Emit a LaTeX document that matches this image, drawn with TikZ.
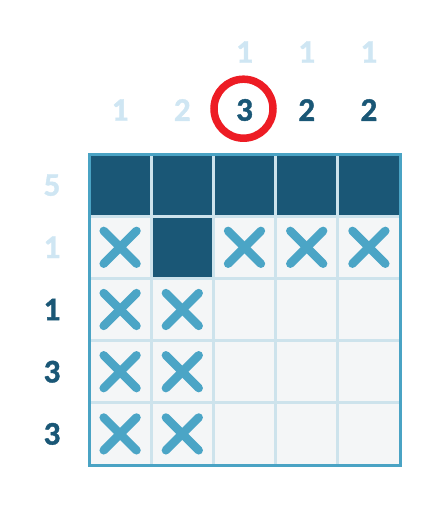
\documentclass[tikz,border=0pt]{standalone}
\usepackage{fontspec}
\setmainfont{Carlito}[BoldFont={Carlito Bold}]
\newfontfamily\cluefont{Carlito Bold}[FakeBold=1.2]
\usetikzlibrary{calc}
\definecolor{dk}{HTML}{1A5776}
\definecolor{lt}{HTML}{CFE6F3}
\definecolor{xc}{HTML}{4BA5C6}
\definecolor{bg}{HTML}{F4F6F7}
\definecolor{gl}{HTML}{CDE3EC}
\definecolor{bd}{HTML}{4AA3C4}
\definecolor{rd}{HTML}{ED1C24}
\begin{document}
\begin{tikzpicture}[x=1pt,y=-1pt,
  clue/.style={font=\cluefont\fontsize{33}{33}\selectfont, inner sep=0pt, anchor=center},
  dkclue/.style={clue, text=dk},
  ltclue/.style={clue, text=lt},
  xmark/.style={draw=xc, line width=8.5pt, line cap=round},
  fillcell/.style={fill=dk},
  ringmark/.style={draw=rd, line width=7.5pt}]
\useasboundingbox (0,0) rectangle (437,508);
\def\ox{89}\def\oy{154}\def\p{62.2}
% background cells
\fill[bg] (\ox,\oy) rectangle ({\ox+5*\p},{\oy+5*\p});
% filled cells
\foreach \c in {0,...,4} \fill[fillcell] ({\ox+\c*\p},\oy) rectangle ({\ox+(\c+1)*\p},{\oy+\p});
\fill[fillcell] ({\ox+\p},{\oy+\p}) rectangle ({\ox+2*\p},{\oy+2*\p});
% inner grid lines
\foreach \i in {1,...,4} {
  \draw[gl, line width=2.8pt] ({\ox+\i*\p},\oy) -- ({\ox+\i*\p},{\oy+5*\p});
  \draw[gl, line width=2.8pt] (\ox,{\oy+\i*\p}) -- ({\ox+5*\p},{\oy+\i*\p});
}
% outer border
\draw[bd, line width=3pt] (\ox,\oy) rectangle ({\ox+5*\p},{\oy+5*\p});
% X marks
\foreach \c/\r in {0/1,2/1,3/1,4/1,0/2,1/2,0/3,1/3,0/4,1/4} {
  \coordinate (m\c\r) at ({\ox+(\c+0.5)*\p},{\oy+(\r+0.5)*\p});
  \draw[xmark] ($(m\c\r)+(-16.4,-16.4)$) -- ($(m\c\r)+(16.4,16.4)$);
  \draw[xmark] ($(m\c\r)+(-16.4,16.4)$) -- ($(m\c\r)+(16.4,-16.4)$);
}
% column clues
\node[ltclue] (t2) at (244.5,52) {1};
\node[ltclue] (t3) at (306.7,52) {1};
\node[ltclue] (t4) at (368.9,52) {1};
\node[ltclue] (b0) at (120.1,110) {1};
\node[ltclue] (b1) at (182.3,110) {2};
\node[dkclue] (b2) at (244.5,110) {3};
\node[dkclue] (b3) at (306.7,110) {2};
\node[dkclue] (b4) at (368.9,110) {2};
% row clues
\node[ltclue] (r0) at (52,185.1) {5};
\node[ltclue] (r1) at (52,247.3) {1};
\node[dkclue] (r2) at (52,309.5) {1};
\node[dkclue] (r3) at (52,371.7) {3};
\node[dkclue] (r4) at (52,433.9) {3};
% ring
\draw[ringmark] (243.5,108.7) circle (29.5);
\end{tikzpicture}
\end{document}
